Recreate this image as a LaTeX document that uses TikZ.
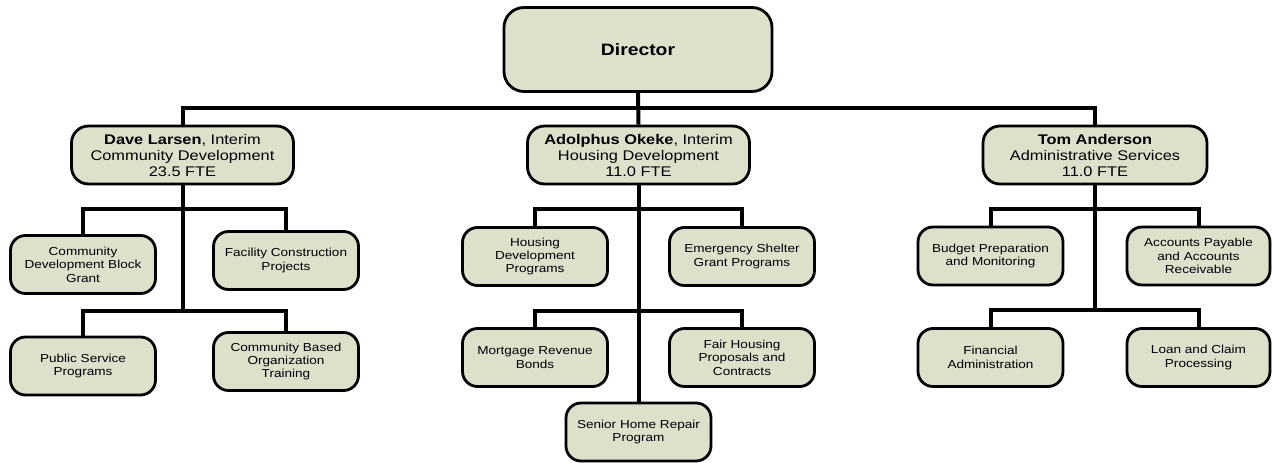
\documentclass[tikz,border=0pt]{standalone}
\usepackage{fontspec}
\setmainfont{Liberation Sans}[FakeStretch=1.17]
\definecolor{boxfill}{RGB}{221,225,204}
\pgfdeclarelayer{background}
\pgfsetlayers{background,main}
\tikzset{
  x=1pt, y=-1pt,
  boxbase/.style={draw=black, line width=2.8pt, fill=boxfill, rounded corners=15pt, align=center, inner sep=0pt},
  dirbox/.style={boxbase, minimum width=268pt, minimum height=84pt, rounded corners=20pt, font=\fontsize{16.5}{19}\selectfont\bfseries},
  midbox/.style={boxbase, minimum width=222pt, minimum height=58pt, rounded corners=17pt, font=\fontsize{14}{16}\selectfont},
  smallbox/.style={boxbase, minimum width=145pt, minimum height=58pt, font=\fontsize{11.6}{13.4}\selectfont},
  conn/.style={line width=4pt, line join=miter}
}
\begin{document}
\begin{tikzpicture}
\useasboundingbox (0,0) rectangle (1272,463);
\coordinate (bus) at (0,108);
\coordinate (sa) at (0,209);
\coordinate (sb) at (0,311);
\coordinate (sc) at (0,310);
% nodes
\node[dirbox] (dir) at (638,49.5) {Director};
\node[midbox] (dave) at (182.5,155) {\textbf{Dave Larsen}, Interim\\Community Development\\23.5 FTE};
\node[midbox] (adol) at (638.5,155) {\textbf{Adolphus Okeke}, Interim\\Housing Development\\11.0 FTE};
\node[midbox, minimum width=224pt] (tom) at (1095,155) {\textbf{Tom Anderson}\\Administrative Services\\11.0 FTE};
\node[smallbox] (cdbg) at (83,264.5) {Community\\Development Block\\Grant};
\node[smallbox] (fac) at (286,260.5) {Facility Construction\\Projects};
\node[smallbox] (pub) at (83,366) {Public Service\\Programs};
\node[smallbox] (cbo) at (286,361.5) {Community Based\\Organization\\Training};
\node[smallbox] (hdp) at (535,256.5) {Housing\\Development\\Programs};
\node[smallbox] (esg) at (742,256.5) {Emergency Shelter\\Grant Programs};
\node[smallbox] (mrb) at (535,357.5) {Mortgage Revenue\\Bonds};
\node[smallbox] (fhp) at (742,357.5) {Fair Housing\\Proposals and\\Contracts};
\node[smallbox] (shr) at (638.5,432) {Senior Home Repair\\Program};
\node[smallbox] (bpm) at (990.5,256) {Budget Preparation\\and Monitoring};
\node[smallbox, minimum width=143pt] (apr) at (1198.5,256) {Accounts Payable\\and Accounts\\Receivable};
\node[smallbox] (fin) at (990.5,357.5) {Financial\\Administration};
\node[smallbox, minimum width=143pt] (lcp) at (1198.5,357.5) {Loan and Claim\\Processing};
% connectors behind the boxes
\begin{pgfonlayer}{background}
\draw[conn] (dir.south) -- (adol.north);
\draw[conn] (dave.north) -- (dave.north |- bus) -- (tom.north |- bus) -- (tom.north);
\draw[conn] (dave.south) -- (dave.south |- sb);
\draw[conn] (cdbg.north) -- (cdbg.north |- sa) -- (fac.north |- sa) -- (fac.north);
\draw[conn] (pub.north) -- (pub.north |- sb) -- (cbo.north |- sb) -- (cbo.north);
\draw[conn] (adol.south) -- (shr.north);
\draw[conn] (hdp.north) -- (hdp.north |- sa) -- (esg.north |- sa) -- (esg.north);
\draw[conn] (mrb.north) -- (mrb.north |- sb) -- (fhp.north |- sb) -- (fhp.north);
\draw[conn] (tom.south) -- (tom.south |- sc);
\draw[conn] (bpm.north) -- (bpm.north |- sa) -- (apr.north |- sa) -- (apr.north);
\draw[conn] (fin.north) -- (fin.north |- sc) -- (lcp.north |- sc) -- (lcp.north);
\end{pgfonlayer}
\end{tikzpicture}
\end{document}
